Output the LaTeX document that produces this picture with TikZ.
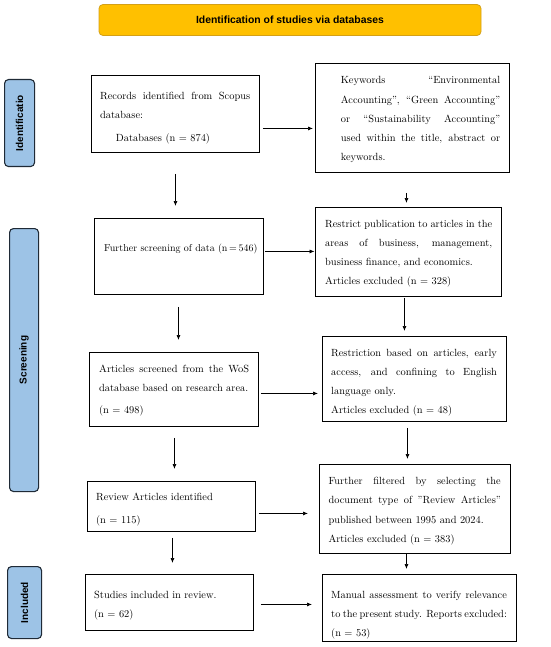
\documentclass[tikz,border=0pt]{standalone}
\usepackage{fontspec}
\newfontfamily\labfont{Liberation Sans}
\usetikzlibrary{arrows.meta}
\definecolor{titlefill}{HTML}{FFC000}
\definecolor{titleline}{HTML}{D4A017}
\definecolor{sidefill}{HTML}{9DC3E6}
\definecolor{sideline}{HTML}{1F2A36}
\newcommand{\jl}[1]{\makebox[\hsize][s]{\spaceskip=0pt\xspaceskip=0pt #1}\\}
\begin{document}
\begin{tikzpicture}[x=1pt,y=-1pt,
 box/.style={draw=black, line width=0.9pt, anchor=north west, inner sep=0pt},
 txt/.style={anchor=north west, inner sep=0pt, align=left, font=\fontsize{10.4}{19.2}\selectfont},
 side/.style={draw=sideline, fill=sidefill, line width=1.1pt, rounded corners=4pt, anchor=north west, inner sep=0pt},
 sidetxt/.style={rotate=90, inner sep=0pt, font=\labfont\bfseries\fontsize{10}{12}\selectfont},
 titlebox/.style={draw=titleline, fill=titlefill, line width=0.8pt, rounded corners=4pt, inner sep=0pt, font=\labfont\bfseries\fontsize{10.4}{12}\selectfont},
 arr/.style={-{Latex[length=5pt,width=4pt]}, line width=0.7pt}]
\useasboundingbox (0,0) rectangle (550,647);

% title
\node[titlebox, minimum width=382pt, minimum height=31pt] (T) at (290,20) {Identification of studies via databases};

% side labels
\node[side, minimum width=30pt, minimum height=87pt] (L1) at (4,79) {};
\node[sidetxt] (L1t) at (L1.center) {Identificatio};
\node[side, minimum width=29pt, minimum height=263pt] (L2) at (9,228) {};
\node[sidetxt] (L2t) at (L2.center) {Screening};
\node[side, minimum width=34pt, minimum height=72pt] (L3) at (7,566) {};
\node[sidetxt] (L3t) at (L3.center) {Included};

% left column boxes
\node[box, minimum width=168pt, minimum height=77pt] (A1) at (91,75) {};
\node[txt, text width=150pt] (A1t) at (100,91.5) {\jl{Records identified from Scopus}database:\\[4pt]\hspace*{15.7pt}Databases (n = 874)};

\node[box, minimum width=169pt, minimum height=76pt] (A2) at (94,218) {};
\node[txt, font=\fontsize{10}{19.2}\selectfont] (A2t) at (104,243.3) {Further screening of data (n\,=\,546)};

\node[box, minimum width=169pt, minimum height=74pt] (A3) at (89,352) {};
\node[txt, text width=150pt] (A3t) at (99,364.8) {\jl{Articles screened from the WoS}database based on research area.\\[2.5pt](n = 498)};

\node[box, minimum width=168pt, minimum height=50pt] (A4) at (87,481) {};
\node[txt, text width=150pt] (A4t) at (96,493.2) {Review Articles identified\\[3.4pt](n = 115)};

\node[box, minimum width=168pt, minimum height=56pt] (A5) at (85,574) {};
\node[txt, text width=150pt] (A5t) at (94,590.5) {Studies included in review.\\(n = 62)};

% right column boxes
\node[box, minimum width=194pt, minimum height=109pt] (B1) at (315,63) {};
\node[txt, text width=159.3pt] (B1t) at (340.7,76.5) {\jl{Keywords “Environmental}\jl{Accounting”, “Green Accounting”}\jl{or “Sustainability Accounting”}\jl{used within the title, abstract or}keywords.};

\node[box, minimum width=186pt, minimum height=89pt] (B2) at (315,207) {};
\node[txt, text width=167pt] (B2t) at (325,219.8) {\jl{Restrict publication to articles in the}\jl{areas of business, management,}business finance, and economics.\\Articles excluded (n = 328)};

\node[box, minimum width=184pt, minimum height=85pt] (B3) at (322,336) {};
\node[txt, text width=165.7pt] (B3t) at (331,348.8) {\jl{Restriction based on articles, early}\jl{access, and confining to English}language only.\\Articles excluded (n = 48)};

\node[box, minimum width=191pt, minimum height=89pt] (B4) at (319,464) {};
\node[txt, text width=172.3pt] (B4t) at (328.3,477.2) {\jl{Further filtered by selecting the}\jl{document type of "Review Articles"}published between 1995 and 2024.\\Articles excluded (n = 383)};

\node[box, minimum width=194pt, minimum height=67pt] (B5) at (322,574) {};
\node[txt, text width=175.7pt] (B5t) at (331,590.5) {\jl{Manual assessment to verify relevance}\jl{to the present study. Reports excluded:}(n = 53)};

% vertical arrows
\draw[arr, shorten <=21pt, shorten >=12pt] (A1.south) -- (A1.south |- A2.north);
\path ([xshift=-6pt]B1.south) coordinate (v2);
\draw[arr, shorten <=20pt, shorten >=4pt] (v2) -- (v2 |- B2.north);
\path ([xshift=-0.5pt]A2.south) coordinate (v3);
\draw[arr, shorten <=12pt, shorten >=12pt] (v3) -- (v3 |- A3.north);
\path ([xshift=-4pt]B2.south) coordinate (v4);
\draw[arr, shorten <=1pt, shorten >=5pt] (v4) -- (v4 |- B3.north);
\path ([xshift=0.5pt]A3.south) coordinate (v5);
\draw[arr, shorten <=11pt, shorten >=12pt] (v5) -- (v5 |- A4.north);
\path ([xshift=-7pt]B3.south) coordinate (v6);
\draw[arr, shorten <=6pt, shorten >=5pt] (v6) -- (v6 |- B4.north);
\path ([xshift=1pt]A4.south) coordinate (v7);
\draw[arr, shorten <=6pt, shorten >=11pt] (v7) -- (v7 |- A5.north);
\path ([xshift=-8.5pt]B4.south) coordinate (v8);
\draw[arr, shorten <=0.5pt, shorten >=5pt] (v8) -- (v8 |- B5.north);

% horizontal arrows
\path ([yshift=-14.5pt]A1.east) coordinate (h1);
\draw[arr, shorten <=3pt, shorten >=2pt] (h1) -- (h1 -| B1.west);
\path ([yshift=5pt]A2.east) coordinate (h2);
\draw[arr, shorten <=1pt, shorten >=0.5pt] (h2) -- (h2 -| B2.west);
\path ([yshift=-4pt]A3.east) coordinate (h3);
\draw[arr, shorten <=2pt, shorten >=4pt] (h3) -- (h3 -| B3.west);
\path ([yshift=-7pt]A4.east) coordinate (h4);
\draw[arr, shorten <=3pt, shorten >=11pt] (h4) -- (h4 -| B4.west);
\path ([yshift=-2pt]A5.east) coordinate (h5);
\draw[arr, shorten <=7pt, shorten >=10pt] (h5) -- (h5 -| B5.west);
\end{tikzpicture}
\end{document}
